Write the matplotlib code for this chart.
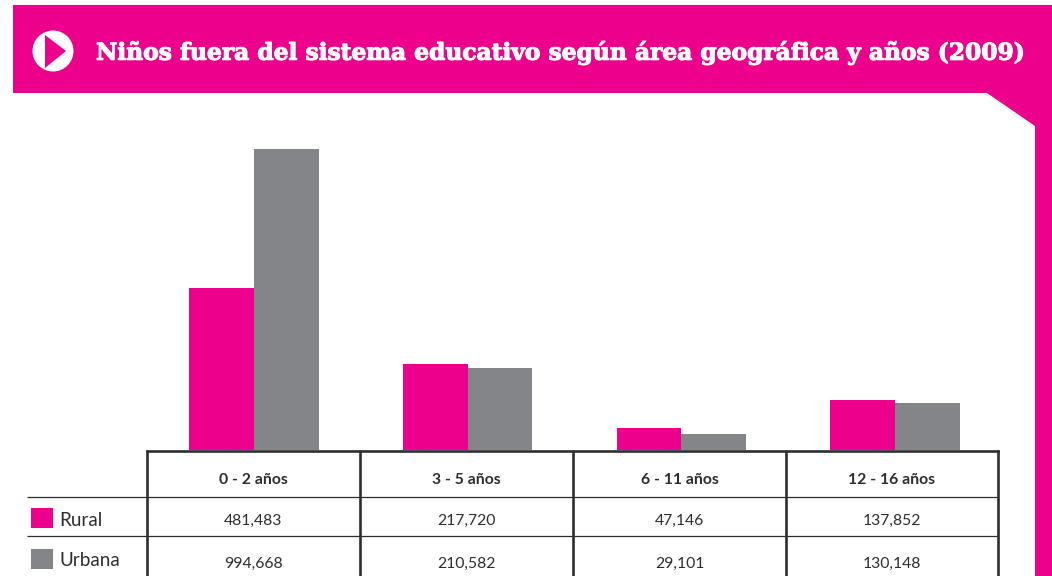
"""Ninos fuera del sistema educativo: grouped bars on top of a small data table."""

import matplotlib

matplotlib.use("Agg")
import matplotlib.patheffects as pe
import matplotlib.pyplot as plt
from matplotlib.patches import Circle, Polygon, Rectangle

TITLE = "Niños fuera del sistema educativo según área geográfica y años (2009)"
GROUPS = ["0 - 2 años", "3 - 5 años", "6 - 11 años", "12 - 16 años"]
SERIES = ["Rural", "Urbana"]
# printed in the table
RURAL_LABELS = ["481,483", "217,720", "47,146", "137,852"]
URBANA_LABELS = ["994,668", "210,582", "29,101", "130,148"]
# they are not quite to scale with the table
RURAL_BARS = [535000, 284000, 73000, 165000]
URBANA_BARS = [994668, 271000, 53000, 155000]

PINK = "#EC008C"
GREY = "#848589"
INK = "#2f2e2e"
W, H = 1052, 576

plt.rcParams["font.family"] = ["Lato", "DejaVu Sans"]

fig = plt.figure(figsize=(W / 100, H / 100), dpi=100)

# page furniture and table live in a pixel-sized overlay
page = fig.add_axes([0, 0, 1, 1])
page.set_xlim(0, W)
page.set_ylim(H, 0)
page.axis("off")

page.add_patch(Polygon([(13, 5), (W, 5), (W, H), (1035, H), (1035, 126), (987, 93), (13, 93)], fc=PINK, ec="none"))
page.add_patch(Circle((53, 51), 20.5, fc="white", ec="none"))
page.add_patch(Polygon([(45, 35), (66, 51), (45, 68)], fc=PINK, ec="none"))
title = page.text(96, 53, TITLE, color="white", fontsize=16.8, fontweight="bold", family="DejaVu Serif", va="center", ha="left")
title.set_path_effects([pe.withStroke(linewidth=0.8, foreground="white")])

# bars
bars = fig.add_axes([147.2 / W, 1 - 450 / H, 854.4 / W, 301 / H])
bars.patch.set_alpha(0)
x = range(len(GROUPS))
width = 64.7 / 213.6
bars.bar([i - width / 2 for i in x], RURAL_BARS, width, color=PINK)
bars.bar([i + width / 2 for i in x], URBANA_BARS, width, color=GREY)
bars.set_xlim(-0.5, 3.5)
bars.set_ylim(0, max(URBANA_BARS))
bars.axis("off")

# table rules
col_edges = [147, 360, 573, 786, 998]
for y in [497, 536]:
    page.plot([27, 998], [y, y], color=INK, lw=0.9, solid_capstyle="butt")
page.plot([147, 998], [450.5, 450.5], color=INK, lw=1.9, solid_capstyle="projecting", zorder=5)
for xe in col_edges:
    page.plot([xe, xe], [450, H], color=INK, lw=1.9, solid_capstyle="butt", zorder=5)

centers = [(a + b) / 2 for a, b in zip(col_edges[:-1], col_edges[1:])]
for cx, g, r, u in zip(centers, GROUPS, RURAL_LABELS, URBANA_LABELS):
    page.text(cx, 480, g, ha="center", va="center", fontsize=11.3, fontweight="bold", color=INK)
    page.text(cx, 521, r, ha="center", va="center", fontsize=11.3, color=INK)
    page.text(cx, 564, u, ha="center", va="center", fontsize=11.3, color=INK)

# row legend
for name, color, y in zip(SERIES, [PINK, GREY], [518, 559]):
    page.add_patch(Rectangle((31, y - 10), 22, 20, fc=color, ec="none"))
    page.text(59.5, y + 2, name, ha="left", va="center", fontsize=13.6, color=INK)

fig.savefig("out.png", dpi=100)
